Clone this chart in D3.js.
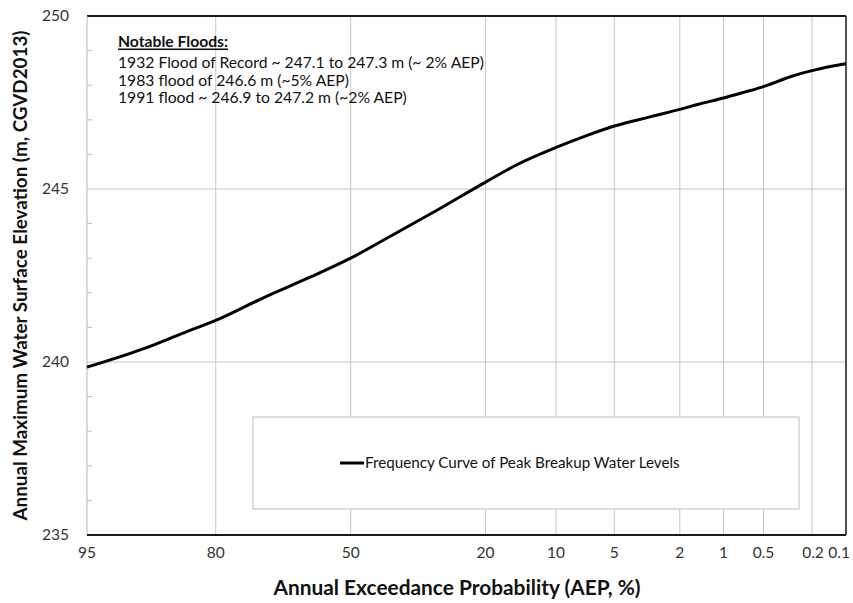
<!DOCTYPE html>
<html>
<head>
<meta charset="utf-8">
<script src="https://cdn.jsdelivr.net/npm/d3@7"></script>
<style>
	body { margin: 0; background: #fff; }
	svg { display: block; font-family: Lato, "Open Sans", sans-serif; }
</style>
</head>
<body>
<svg id="chart" width="853" height="603"></svg>
<script>
// AEP in percent
const aep = [95, 90, 85, 80, 70, 60, 50, 40, 30, 20, 15, 10, 7, 5, 3, 2, 1.5, 1, 0.7, 0.5, 0.3, 0.2, 0.15, 0.1];
const elevation = [239.85, 240.4, 240.85, 241.2, 241.9, 242.45, 243.0, 243.65, 244.35, 245.2, 245.7, 246.2, 246.55, 246.82, 247.1, 247.3, 247.45, 247.63, 247.8, 247.96, 248.25, 248.42, 248.52, 248.62];

const xTicks = [95, 80, 50, 20, 10, 5, 2, 1, 0.5, 0.2, 0.1];
const yTicks = [235, 240, 245, 250];
const yMinor = [236, 237, 238, 239, 241, 242, 243, 244, 246, 247, 248, 249];

const notes = [
	"1932 Flood of Record ~ 247.1 to 247.3 m (~ 2% AEP)",
	"1983 flood of 246.6 m (~5% AEP)",
	"1991 flood ~ 246.9 to 247.2 m (~2% AEP)"
];
const legendLabel = "Frequency Curve of Peak Breakup Water Levels";

// inverse normal CDF (Acklam)
function probit(p) {
	const a = [-39.69683028665376, 220.9460984245205, -275.9285104469687, 138.3577518672690, -30.66479806614716, 2.506628277459239],
		b = [-54.47609879822406, 161.5858368580409, -155.6989798598866, 66.80131188771972, -13.28068155288572],
		c = [-0.007784894002430293, -0.3223964580411365, -2.400758277161838, -2.549732539343734, 4.374664141464968, 2.938163982698783],
		d = [0.007784695709041462, 0.3224671290700398, 2.445134137142996, 3.754408661907416];
	const pl = 0.02425;
	let q, r;
	if (p < pl) {
		q = Math.sqrt(-2 * Math.log(p));
		return (((((c[0]*q+c[1])*q+c[2])*q+c[3])*q+c[4])*q+c[5]) / ((((d[0]*q+d[1])*q+d[2])*q+d[3])*q+1);
	}
	if (p <= 1 - pl) {
		q = p - 0.5; r = q * q;
		return (((((a[0]*r+a[1])*r+a[2])*r+a[3])*r+a[4])*r+a[5])*q / (((((b[0]*r+b[1])*r+b[2])*r+b[3])*r+b[4])*r+1);
	}
	q = Math.sqrt(-2 * Math.log(1 - p));
	return -(((((c[0]*q+c[1])*q+c[2])*q+c[3])*q+c[4])*q+c[5]) / ((((d[0]*q+d[1])*q+d[2])*q+d[3])*q+1);
}
const zOf = p => probit(1 - p / 100);

const margin = { left: 87, top: 16, right: 7, bottom: 68 };
const W = 853, H = 603;
const width = W - margin.left - margin.right,
	height = H - margin.top - margin.bottom;

const zScale = d3.scaleLinear().domain([zOf(95), zOf(0.1)]).range([0, width]);
const x = p => zScale(zOf(p));
const y = d3.scaleLinear().domain([235, 250]).range([height, 0]);

const svg = d3.select("#chart");
const g = svg.append("g").attr("transform", `translate(${margin.left}, ${margin.top})`);

// gridlines
g.selectAll(".vgrid").data(xTicks.slice(1, -1)).enter().append("line")
	.attr("x1", d => x(d)).attr("x2", d => x(d))
	.attr("y1", 0).attr("y2", height)
	.attr("stroke", "#c6c6c6").attr("stroke-width", 1);
g.selectAll(".hgrid").data(yTicks.slice(1, -1)).enter().append("line")
	.attr("x1", 0).attr("x2", width)
	.attr("y1", d => y(d)).attr("y2", d => y(d))
	.attr("stroke", "#c6c6c6").attr("stroke-width", 1);

// minor ticks on y
g.selectAll(".minor").data(yMinor).enter().append("line")
	.attr("x1", 0).attr("x2", 5)
	.attr("y1", d => y(d)).attr("y2", d => y(d))
	.attr("stroke", "#bdbdbd").attr("stroke-width", 1);

// borders
g.append("line").attr("x1", 0).attr("x2", width).attr("y1", 0).attr("y2", 0)
	.attr("stroke", "#1a1a1a").attr("stroke-width", 2);
g.append("line").attr("x1", width).attr("x2", width).attr("y1", 0).attr("y2", height)
	.attr("stroke", "#1a1a1a").attr("stroke-width", 1.5);
g.append("line").attr("x1", 0).attr("x2", 0).attr("y1", 0).attr("y2", height)
	.attr("stroke", "#b5b5b5").attr("stroke-width", 1);
g.append("line").attr("x1", 0).attr("x2", width).attr("y1", height).attr("y2", height)
	.attr("stroke", "#1a1a1a").attr("stroke-width", 2);

// tick labels
g.selectAll(".ylab").data(yTicks).enter().append("text")
	.attr("x", -18).attr("y", d => y(d)).attr("dy", "0.35em")
	.attr("text-anchor", "end").attr("font-size", 15.5).attr("fill", "#333")
	.text(d => d);
const last = xTicks.length - 1;
g.selectAll(".xlab").data(xTicks).enter().append("text")
	.attr("x", (d, i) => i === last ? width + 4 : i === last - 1 ? x(d) + 1 : x(d))
	.attr("y", height + 18).attr("dy", "0.35em")
	.attr("text-anchor", (d, i) => i === last ? "end" : "middle")
	.attr("font-size", 15.5).attr("fill", "#333")
	.text(d => d);

// curve
const pts = aep.map((p, i) => [p, elevation[i]]);
g.append("path").datum(pts)
	.attr("fill", "none").attr("stroke", "#000").attr("stroke-width", 3)
	.attr("stroke-linejoin", "round")
	.attr("d", d3.line().x(d => x(d[0])).y(d => y(d[1])).curve(d3.curveMonotoneX));

// notable floods
const notesX = 118 - margin.left;
g.append("text").attr("x", notesX).attr("y", 42 - margin.top).attr("dy", "0.35em")
	.attr("font-size", 15.7).attr("font-weight", "bold").attr("text-decoration", "underline")
	.attr("fill", "#111").text("Notable Floods:");
g.selectAll(".note").data(notes).enter().append("text")
	.attr("x", notesX).attr("y", (d, i) => 63 + i * 17.5 - margin.top).attr("dy", "0.35em")
	.attr("font-size", 15.7).attr("fill", "#111").text(d => d);

// legend
const lg = g.append("g").attr("transform", `translate(${253 - margin.left}, ${417 - margin.top})`);
lg.append("rect").attr("width", 546).attr("height", 92)
	.attr("fill", "#fff").attr("stroke", "#bdbdbd").attr("stroke-width", 1);
lg.append("line").attr("x1", 87).attr("x2", 111).attr("y1", 46).attr("y2", 46)
	.attr("stroke", "#000").attr("stroke-width", 3);
lg.append("text").attr("x", 112).attr("y", 46).attr("dy", "0.35em")
	.attr("font-size", 15.2).attr("fill", "#111").text(legendLabel);

// axis titles
svg.append("text").attr("x", 457).attr("y", 588).attr("dy", "0.35em")
	.attr("text-anchor", "middle").attr("font-size", 20).attr("font-weight", "bold")
	.attr("textLength", 367).attr("lengthAdjust", "spacingAndGlyphs")
	.attr("fill", "#111").text("Annual Exceedance Probability (AEP, %)");
svg.append("text").attr("transform", `translate(21, ${margin.top + height / 2}) rotate(-90)`)
	.attr("dy", "0.35em").attr("text-anchor", "middle").attr("font-size", 18.5).attr("font-weight", "bold")
	.attr("textLength", 490).attr("lengthAdjust", "spacingAndGlyphs")
	.attr("fill", "#111").text("Annual Maximum Water Surface Elevation (m, CGVD2013)");
</script>
</body>
</html>
